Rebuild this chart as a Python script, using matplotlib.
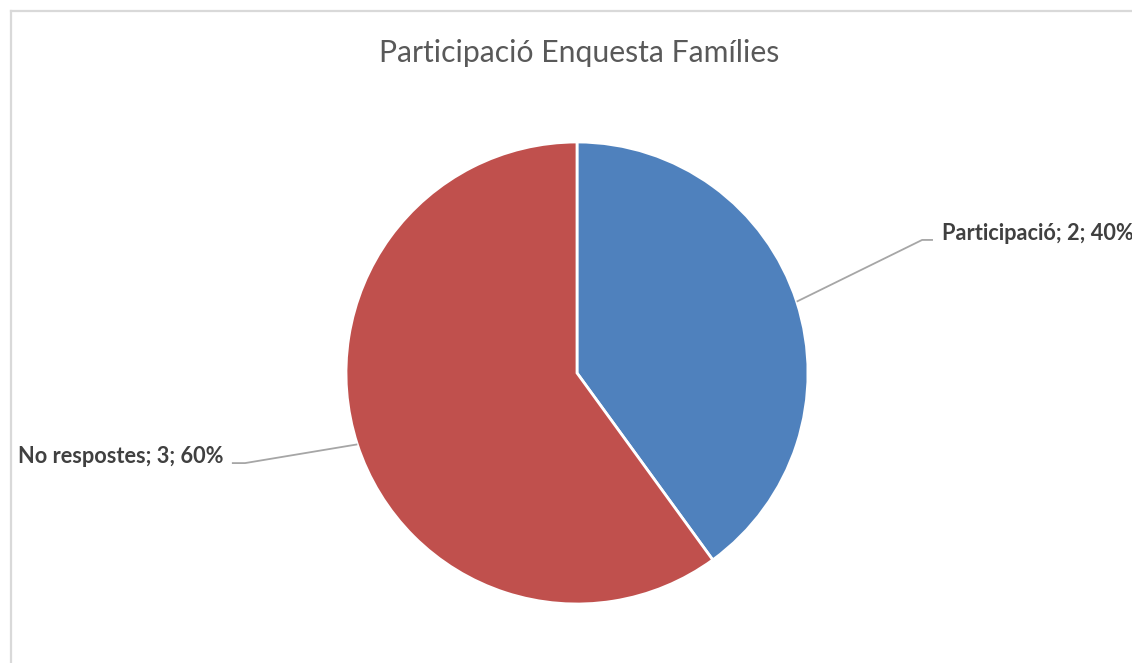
import matplotlib
matplotlib.use("Agg")
import matplotlib.pyplot as plt
import numpy as np
from matplotlib.lines import Line2D

plt.rcParams["font.family"] = ["Lato", "DejaVu Sans"]

TITLE = "Participació Enquesta Famílies"
CATEGORIES = ["Participació", "No respostes"]
COUNTS = [2, 3]
COLORS = ["#4F81BD", "#C0504D"]

W, H = 1132, 663
fig = plt.figure(figsize=(W / 100, H / 100), dpi=100)
fig.patch.set_facecolor("white")

# chart-area frame (runs off the right and bottom edges)
fig.add_artist(Line2D([10.5 / W, 10.5 / W], [0, 1 - 11 / H], color="#d9d9d9", lw=1.6))
fig.add_artist(Line2D([10.5 / W, 1], [1 - 11 / H, 1 - 11 / H], color="#d9d9d9", lw=1.6))

cx, cy, r = 577, 373, 231
ax = fig.add_axes([(cx - r) / W, (H - cy - r) / H, 2 * r / W, 2 * r / H])

wedges, _ = ax.pie(COUNTS, colors=COLORS, startangle=90, counterclock=False, radius=1,
                   wedgeprops=dict(edgecolor="white", linewidth=2.0))
ax.set_xlim(-1, 1)
ax.set_ylim(-1, 1)
ax.axis("off")

total = sum(COUNTS)
# label positions (data units) and leader-line elbow for each slice
label_pos = [(1.580, 0.576, "left"), (-1.532, -0.390, "right")]
elbows = [((1.494, 0.576), (1.541, 0.576)), ((-1.494, -0.390), (-1.437, -0.390))]
for w, name, n, (lx, ly, ha), (e_out, e_in) in zip(wedges, CATEGORIES, COUNTS, label_pos, elbows):
    ang = np.deg2rad((w.theta1 + w.theta2) / 2)
    px, py = np.cos(ang), np.sin(ang)
    if ha == "left":
        xs, ys = [px, e_out[0], e_in[0]], [py, e_out[1], e_in[1]]
    else:
        xs, ys = [px, e_in[0], e_out[0]], [py, e_in[1], e_out[1]]
    ax.plot(xs, ys, color="#a6a6a6", lw=1.3, clip_on=False, solid_capstyle="butt")
    ax.text(lx, ly, f"{name}; {n}; {100 * n / total:.0f}%", ha=ha, va="baseline",
            fontsize=15.7, fontweight="bold", color="#404040", clip_on=False)

fig.text(579 / W, 1 - 62 / H, TITLE, ha="center", va="baseline",
         fontsize=21.7, color="#595959")

fig.savefig("out.png", dpi=100)
